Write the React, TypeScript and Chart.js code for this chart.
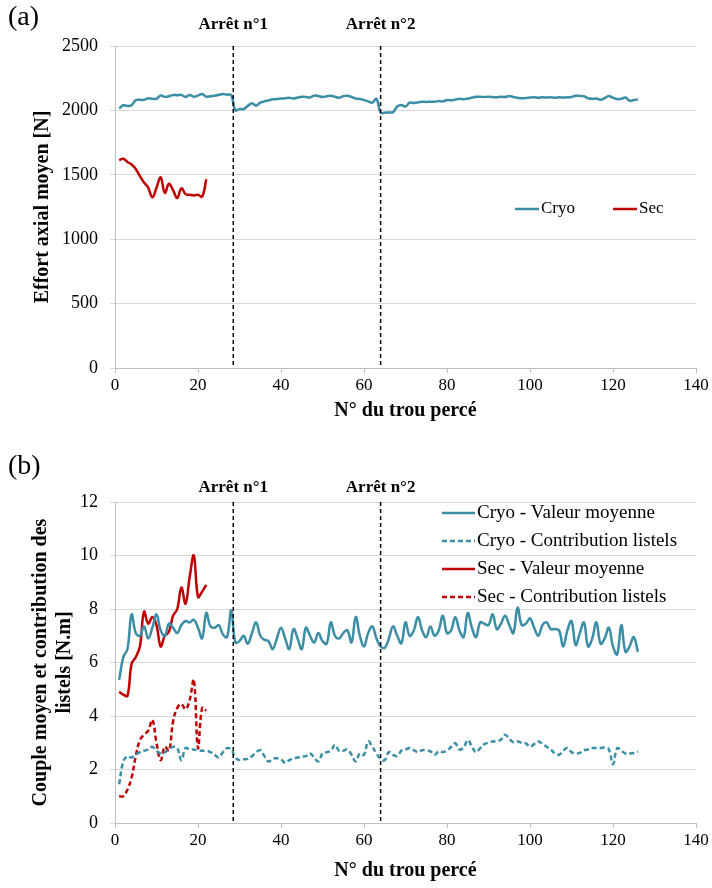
import React, { useEffect, useRef } from "react";
import { Chart, registerables } from "chart.js";

Chart.register(...registerables);

// ---------- data ----------
const axialCryo = [
  2015, 2040, 2035, 2040, 2080, 2082, 2082, 2094, 2090, 2090,
  2115, 2105, 2110, 2120, 2118, 2120, 2105, 2120, 2106, 2115,
  2127, 2106, 2110, 2114, 2120, 2127, 2122, 2118, 2000, 2010,
  2011, 2035, 2055, 2037, 2060, 2070, 2078, 2086, 2088, 2092,
  2094, 2098, 2092, 2100, 2106, 2104, 2100, 2115, 2112, 2104,
  2110, 2114, 2106, 2098, 2110, 2114, 2104, 2092, 2088, 2080,
  2070, 2060, 2090, 1982, 1982, 1984, 1986, 2030, 2042, 2030,
  2060, 2058, 2062, 2068, 2066, 2068, 2068, 2072, 2070, 2080,
  2078, 2084, 2090, 2086, 2092, 2098, 2106, 2106, 2104, 2106,
  2104, 2102, 2106, 2104, 2112, 2104, 2098, 2094, 2096, 2100,
  2102, 2098, 2102, 2100, 2102, 2098, 2102, 2100, 2102, 2104,
  2114, 2112, 2110, 2094, 2090, 2092, 2082, 2095, 2112, 2098,
  2088, 2090, 2100, 2076, 2080, 2086,
];
const axialSec = [
  1615, 1625, 1600, 1580, 1545, 1490, 1440, 1400, 1325, 1400,
  1480, 1360, 1430, 1380, 1320, 1395, 1350, 1345, 1340, 1345,
  1330, 1465,
];

const torqueCryoMean = [
  5.35, 6.2, 6.5, 7.8, 7.1, 7.0, 7.35, 6.9, 7.3, 7.8,
  7.2, 7.0, 7.45, 7.3, 7.1, 7.4, 7.55, 7.5, 7.6, 7.3,
  6.9, 7.85, 7.35, 7.3, 7.4, 7.05, 6.95, 7.95, 6.75, 6.8,
  7.0, 6.7, 7.1, 7.5, 7.0, 6.85, 6.8, 6.5, 6.9, 7.3,
  6.9, 6.5, 7.25, 6.9, 6.5, 7.3, 7.0, 6.75, 7.1, 6.8,
  6.7, 7.5, 7.0, 6.9, 7.1, 7.2, 6.75, 7.7, 7.0, 6.6,
  7.1, 7.35, 6.9, 6.6, 6.55, 6.9, 7.35, 7.0, 6.72, 7.5,
  7.0, 7.2, 7.7, 7.2, 6.95, 7.35, 7.0, 7.2, 7.75, 7.1,
  7.2, 7.7, 7.2, 6.95, 7.85, 7.3, 6.95, 7.5, 7.45, 7.4,
  7.8, 7.25, 7.45, 7.75, 7.4, 7.1, 8.05, 7.4, 7.45, 7.65,
  7.3, 7.0, 7.4, 7.5, 7.25, 7.25, 7.2, 6.6, 7.2, 7.55,
  6.65, 7.1, 7.5, 6.6, 6.9, 7.5, 6.7, 6.9, 7.3, 6.6,
  6.3, 7.4, 6.4, 6.6, 6.95, 6.4,
];
const torqueCryoContrib = [
  1.45, 2.3, 2.5, 2.45, 2.55, 2.65, 2.7, 2.75, 2.85, 2.7,
  2.6, 2.65, 2.75, 2.85, 2.8, 2.35, 2.8, 2.75, 2.75, 2.72,
  2.7, 2.7, 2.65, 2.55, 2.45, 2.65, 2.8, 2.75, 2.45, 2.35,
  2.38, 2.4, 2.5, 2.65, 2.72, 2.5, 2.3, 2.4, 2.42, 2.38,
  2.25, 2.35, 2.42, 2.45, 2.48, 2.5, 2.6, 2.45, 2.3, 2.6,
  2.65, 2.7, 2.92, 2.7, 2.7, 2.75, 2.55, 2.3, 2.6, 2.55,
  3.05, 2.85, 2.6, 2.4, 2.35, 2.65, 2.55, 2.5, 2.7, 2.75,
  2.8, 2.72, 2.65, 2.72, 2.72, 2.68, 2.55, 2.68, 2.65, 2.7,
  2.85, 2.98, 2.75, 2.82, 3.1, 2.85, 2.65, 2.8, 2.95, 3.0,
  3.05, 3.05, 3.12, 3.3, 3.15, 3.02, 3.05, 3.0, 2.98, 2.85,
  2.95, 3.05, 2.95, 2.85, 2.75, 2.6, 2.55, 2.7, 2.8, 2.65,
  2.6, 2.62, 2.72, 2.75, 2.8, 2.8, 2.8, 2.82, 2.75, 2.2,
  2.8, 2.7, 2.6, 2.6, 2.62, 2.68,
];
const torqueSecMean = [
  4.9, 4.8, 4.75, 5.95, 6.2, 6.6, 7.9, 7.45, 7.7, 7.4,
  6.6, 7.0, 7.15, 7.75, 8.0, 8.8, 8.2, 9.2, 10.0, 8.45,
  8.65, 8.9,
];
const torqueSecContrib = [
  1.0, 1.0, 1.25, 1.7, 2.5, 3.1, 3.3, 3.45, 3.85, 3.0,
  2.35, 2.85, 2.7, 3.8, 4.3, 4.45, 4.25, 4.6, 5.35, 2.8,
  4.3, 4.2,
];

const stopPositions = [28.5, 64];
const stopLabels = ["Arrêt n°1", "Arrêt n°2"];
const xTitle = "N° du trou percé";
const topYTitle = "Effort axial moyen [N]";
const bottomYTitle = ["Couple moyen et contribution des", "listels [N.m]"];

const CRYO = "#3b8ea5";
const SEC = "#c00000";
const SERIF = '"Liberation Serif", "Times New Roman", serif';

const toPoints = (arr: number[]) => arr.map((v, i) => ({ x: i + 1, y: v }));

const overlayPlugin = {
  id: "overlay",
  afterDatasetsDraw(chart: any, _args: any, opts: any) {
    const { ctx, chartArea, scales } = chart;
    const xs = scales.x;
    ctx.save();
    stopPositions.forEach((s, i) => {
      const px = xs.getPixelForValue(s);
      ctx.setLineDash([4, 3]);
      ctx.strokeStyle = "#000";
      ctx.lineWidth = 1.5;
      ctx.beginPath();
      ctx.moveTo(px, chartArea.top);
      ctx.lineTo(px, chartArea.bottom);
      ctx.stroke();
      ctx.setLineDash([]);
      ctx.font = `bold 17px ${SERIF}`;
      ctx.textAlign = "center";
      ctx.textBaseline = "middle";
      ctx.fillStyle = "#000";
      ctx.fillText(stopLabels[i], px, chartArea.top + opts.stopDy);
    });
    ctx.font = `28px ${SERIF}`;
    ctx.textAlign = "left";
    ctx.textBaseline = "middle";
    ctx.fillStyle = "#000";
    ctx.fillText(opts.panel, 8, opts.panelY);

    // legend
    const lg = opts.legend;
    chart.data.datasets.forEach((ds: any, i: number) => {
      const lx = lg.x + (lg.dx || 0) * i;
      const ly = lg.y + (lg.dy || 0) * i;
      ctx.strokeStyle = ds.borderColor;
      ctx.lineWidth = 2.5;
      ctx.setLineDash(ds.borderDash || []);
      ctx.beginPath();
      ctx.moveTo(lx, ly);
      ctx.lineTo(lx + lg.len, ly);
      ctx.stroke();
      ctx.setLineDash([]);
      ctx.font = `${lg.size}px ${SERIF}`;
      ctx.textAlign = "left";
      ctx.textBaseline = "middle";
      ctx.fillStyle = "#000";
      ctx.fillText(ds.label, lx + lg.len + 2, ly);
    });
    ctx.restore();
  },
};

function makeScales(yMax: number, yStep: number, yTitle: any, xHeight: number, yTitlePad: number, xTitlePad: number) {
  return {
    x: {
      type: "linear",
      min: 0,
      max: 140,
      ticks: {
        stepSize: 20,
        color: "#000",
        padding: 2,
        font: { family: SERIF, size: 17 },
        callback: (v: any) => String(v),
      },
      grid: { drawOnChartArea: false, drawTicks: true, tickLength: 5, color: "#bfbfbf" },
      border: { color: "#bfbfbf" },
      title: {
        display: true,
        text: xTitle,
        color: "#000",
        font: { family: SERIF, size: 20, weight: "bold" },
        padding: { top: 0, bottom: xTitlePad },
      },
      afterFit: (s: any) => {
        s.height = xHeight;
      },
    },
    y: {
      min: 0,
      max: yMax,
      ticks: {
        stepSize: yStep,
        color: "#000",
        padding: 12,
        font: { family: SERIF, size: 18 },
        callback: (v: any) => String(v),
      },
      grid: { color: "#d9d9d9", drawTicks: true, tickLength: 5 },
      border: { color: "#bfbfbf" },
      title: {
        display: true,
        text: yTitle,
        color: "#000",
        font: { family: SERIF, size: 20, weight: "bold" },
        padding: { top: yTitlePad, bottom: 0 },
      },
      afterFit: (s: any) => {
        s.width = 115;
      },
    },
  };
}

function TopChart() {
  const ref = useRef<HTMLCanvasElement>(null);
  useEffect(() => {
    const chart = new Chart(ref.current as HTMLCanvasElement, {
      type: "line",
      data: {
        datasets: [
          { label: "Cryo", data: toPoints(axialCryo), borderColor: CRYO, borderWidth: 2.5, pointRadius: 0, tension: 0.4, fill: false },
          { label: "Sec", data: toPoints(axialSec), borderColor: SEC, borderWidth: 2.5, pointRadius: 0, tension: 0.4, fill: false },
        ],
      },
      options: {
        responsive: false,
        animation: false,
        layout: { padding: { top: 46, right: 16, left: 0, bottom: 0 } },
        scales: makeScales(2500, 500, topYTitle, 72, 31, 17) as any,
        plugins: {
          legend: { display: false },
          tooltip: { enabled: false },
          overlay: {
            panel: "(a)",
            panelY: 18,
            stopDy: -21,
            legend: { x: 515, y: 209, dx: 98, dy: 0, len: 24, size: 17 },
          },
        } as any,
      },
      plugins: [overlayPlugin],
    } as any);
    return () => chart.destroy();
  }, []);
  return <canvas ref={ref} width={712} height={440} style={{ display: "block" }} />;
}

function BottomChart() {
  const ref = useRef<HTMLCanvasElement>(null);
  useEffect(() => {
    const chart = new Chart(ref.current as HTMLCanvasElement, {
      type: "line",
      data: {
        datasets: [
          { label: "Cryo - Valeur moyenne", data: toPoints(torqueCryoMean), borderColor: CRYO, borderWidth: 2.5, pointRadius: 0, tension: 0.4, fill: false },
          { label: "Cryo - Contribution listels", data: toPoints(torqueCryoContrib), borderColor: CRYO, borderDash: [5, 3], borderWidth: 2.5, pointRadius: 0, tension: 0.4, fill: false },
          { label: "Sec - Valeur moyenne", data: toPoints(torqueSecMean), borderColor: SEC, borderWidth: 2.5, pointRadius: 0, tension: 0.4, fill: false },
          { label: "Sec - Contribution listels", data: toPoints(torqueSecContrib), borderColor: SEC, borderDash: [5, 3], borderWidth: 2.5, pointRadius: 0, tension: 0.4, fill: false },
        ],
      },
      options: {
        responsive: false,
        animation: false,
        layout: { padding: { top: 62, right: 16, left: 0, bottom: 0 } },
        scales: makeScales(12, 2, bottomYTitle, 65, 29, 5) as any,
        plugins: {
          legend: { display: false },
          tooltip: { enabled: false },
          overlay: {
            panel: "(b)",
            panelY: 27,
            stopDy: -14,
            legend: { x: 442, y: 73, dx: 0, dy: 28, len: 33, size: 19 },
          },
        } as any,
      },
      plugins: [overlayPlugin],
    } as any);
    return () => chart.destroy();
  }, []);
  return <canvas ref={ref} width={712} height={448} style={{ display: "block" }} />;
}

export default function App() {
  useEffect(() => {
    document.body.style.margin = "0";
  }, []);
  return (
    <div style={{ width: 712, height: 888, background: "#fff" }}>
      <TopChart />
      <BottomChart />
    </div>
  );
}
